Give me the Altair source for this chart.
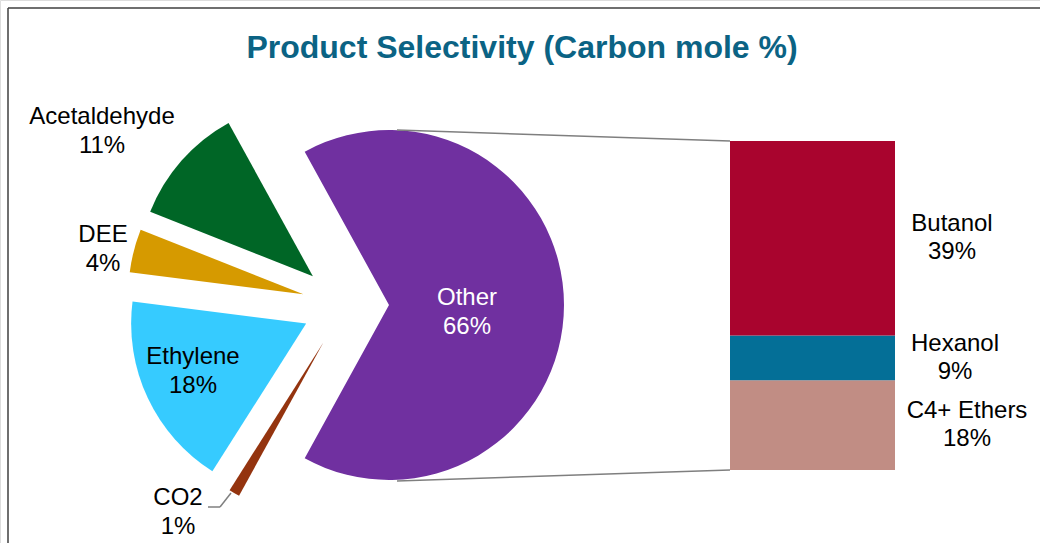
import math
import altair as alt
import pandas as pd

# Pie slices, clockwise starting from the "Other" slice
pie_names = ["Other", "CO2", "Ethylene", "DEE", "Acetaldehyde"]
pie_values = [66, 1, 18, 4, 11]
pie_colors = ["#7030A0", "#94340F", "#36CBFF", "#D69A00", "#006626"]

# Breakdown of "Other" shown as a stacked bar (bottom to top)
bar_names = ["C4+ Ethers", "Hexanol", "Butanol"]
bar_values = [18, 9, 39]
bar_colors = ["#C18D84", "#046F97", "#A9042E"]

# Layout settings
W, H = 1040, 543
PIE_CX, PIE_CY = 345.5, 305.0   # un-exploded pie centre
PIE_R = 175                     # pie radius
EXPLODE = 43.5                  # explosion distance for every slice
START = -math.radians(28.8)     # "Other" is centred on the 3 o'clock direction
BAR_X0, BAR_X1 = 730, 895
BAR_TOP, BAR_BOTTOM = 141, 470
FONT = "Liberation Sans"
LABEL_SIZE = 24
LINE_H = 28.5

# Label anchors: centre x and first-line centre y of each two-line label
pie_label_pos = {
    "Other": (467, 298),
    "CO2": (178, 498),
    "Ethylene": (193, 357),
    "DEE": (103, 235),
    "Acetaldehyde": (102, 117),
}
bar_label_x = {"C4+ Ethers": 967, "Hexanol": 955, "Butanol": 952}

pie = pd.DataFrame({"name": pie_names, "value": pie_values})
total = sum(pie_values)
pie["start"] = pie["value"].cumsum() - pie["value"]
pie["end"] = pie["value"].cumsum()
pie["label"] = pie["name"] + "\n" + pie["value"].astype(str) + "%"
pie["lx"] = [pie_label_pos[n][0] for n in pie_names]
pie["ly"] = [pie_label_pos[n][1] for n in pie_names]

bar = pd.DataFrame({"name": bar_names, "value": bar_values})
bar["y0"] = bar["value"].cumsum() - bar["value"]
bar["y1"] = bar["value"].cumsum()
bar["mid"] = bar["value"].cumsum() - bar["value"] / 2
bar["label"] = bar["name"] + "\n" + bar["value"].astype(str) + "%"
bar["lx"] = [bar_label_x[n] for n in bar_names]

theta_scale = alt.Scale(domain=[0, total], range=[START, START + 2 * math.pi])

# Each slice is moved outwards along its own mid-angle
mid_expr = f"{START} + 2*PI*(datum.start + datum.end)/2/{total}"
slices = (
    alt.Chart(pie)
    .transform_calculate(
        cx=f"{PIE_CX} + {EXPLODE}*sin({mid_expr})",
        cy=f"{PIE_CY} - {EXPLODE}*cos({mid_expr})",
    )
    .mark_arc(outerRadius=PIE_R)
    .encode(
        theta=alt.Theta("start:Q", scale=theta_scale),
        theta2="end:Q",
        x=alt.X("cx:Q", scale=None, axis=None),
        y=alt.Y("cy:Q", scale=None, axis=None),
        color=alt.Color("name:N", scale=alt.Scale(domain=pie_names, range=pie_colors), legend=None),
    )
)

pie_text = (
    alt.Chart(pie)
    .mark_text(font=FONT, fontSize=LABEL_SIZE, lineBreak="\n", lineHeight=LINE_H, baseline="middle", align="center")
    .encode(
        x=alt.X("lx:Q", scale=None, axis=None),
        y=alt.Y("ly:Q", scale=None, axis=None),
        text="label:N",
        color=alt.condition(alt.datum.name == "Other", alt.value("white"), alt.value("black")),
    )
)

bar_scale = alt.Scale(domain=[0, sum(bar_values)], range=[BAR_BOTTOM, BAR_TOP])
bars = (
    alt.Chart(bar)
    .mark_bar()
    .encode(
        x=alt.value(BAR_X0),
        x2=alt.value(BAR_X1),
        y=alt.Y("y0:Q", scale=bar_scale, axis=None),
        y2="y1:Q",
        color=alt.Color("name:N", scale=alt.Scale(domain=bar_names, range=bar_colors), legend=None),
    )
)
bar_text = (
    alt.Chart(bar)
    .mark_text(font=FONT, fontSize=LABEL_SIZE, lineBreak="\n", lineHeight=LINE_H, baseline="middle",
               align="center", color="black", dy=-LINE_H / 2)
    .encode(
        x=alt.X("lx:Q", scale=None, axis=None),
        y=alt.Y("mid:Q", scale=bar_scale, axis=None),
        text="label:N",
    )
)
bar_layer = alt.layer(bars, bar_text).resolve_scale(color="independent")

# Connector lines between the "Other" slice and the bar, CO2 leader line, frame
def rule(x1, y1, x2, y2, color="#7F7F7F", width=1.5):
    return alt.Chart(pd.DataFrame({"k": [0]})).mark_rule(color=color, strokeWidth=width).encode(
        x=alt.value(x1), y=alt.value(y1), x2=alt.value(x2), y2=alt.value(y2)
    )

other_x = PIE_CX + EXPLODE
connectors = alt.layer(
    rule(other_x + 8, PIE_CY - PIE_R, BAR_X0, BAR_TOP),
    rule(other_x + 8, PIE_CY + PIE_R + 1, BAR_X0, BAR_BOTTOM),
    rule(231, 493, 220, 507),
    rule(220, 507, 208, 507),
    rule(8, 8, W, 8, color="#3F3F3F", width=1.5),
    rule(8, 8, 8, H, color="#3F3F3F", width=1.5),
)

title = (
    alt.Chart(pd.DataFrame({"t": ["Product Selectivity (Carbon mole %)"]}))
    .mark_text(font=FONT, fontSize=32, fontWeight="bold", color="#0B6384", align="center", baseline="middle")
    .encode(x=alt.value(522), y=alt.value(48), text="t:N")
)

chart = (
    alt.layer(
        alt.layer(slices, pie_text).resolve_scale(color="independent"),
        bar_layer,
        connectors,
        title,
    )
    .resolve_scale(x="independent", y="independent", color="independent")
    .properties(width=W, height=H, padding=0, autosize=alt.AutoSizeParams(type="none"))
    .configure_view(stroke=None)
    .configure(background="white")
)

chart.save("out.html", embed_options={"renderer": "svg", "actions": False})
